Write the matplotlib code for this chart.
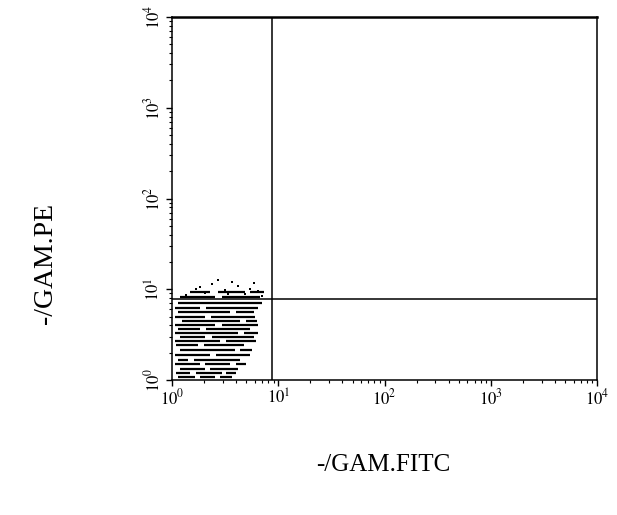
import matplotlib
matplotlib.use('Agg')
import matplotlib.pyplot as plt
import matplotlib.ticker as mtick

# streak segments of the event cloud (PE level, FITC start, FITC end)
seg_y = [1.08, 1.08, 1.08,
         1.19, 1.19, 1.19,
         1.32, 1.32,
         1.50, 1.50, 1.50,
         1.66, 1.66,
         1.89, 1.89,
         2.14, 2.14,
         2.43, 2.43,
         2.69, 2.69,
         2.98, 2.98,
         3.30, 3.30,
         3.65, 3.65,
         4.04, 4.04,
         4.47, 4.47,
         4.95, 4.95,
         5.62, 5.62,
         6.22, 6.22,
         7.06,
         8.22, 8.22,
         9.33, 9.33, 9.33]
seg_x0 = [1.14, 1.83, 2.83,
          1.09, 1.68, 3.22,
          1.19, 2.28,
          1.07, 2.05, 4.00,
          1.14, 1.61,
          1.07, 2.60,
          1.19, 4.37,
          1.09, 2.00,
          1.07, 3.22,
          1.19, 2.38,
          1.07, 4.76,
          1.14, 2.09,
          1.07, 2.96,
          1.24, 4.97,
          1.07, 2.33,
          1.14, 4.00,
          1.07, 2.09,
          1.14,
          1.19, 2.96,
          1.48, 2.71, 5.42]
seg_x1 = [1.65, 2.54, 3.67,
          1.48, 2.96, 4.00,
          2.05, 4.18,
          1.83, 3.52, 4.97,
          1.41, 4.37,
          2.28, 5.42,
          3.92, 5.66,
          1.76, 4.76,
          2.83, 6.17,
          2.05, 5.91,
          4.18, 6.45,
          1.83, 5.42,
          2.54, 6.45,
          4.37, 6.31,
          2.05, 6.04,
          3.52, 5.91,
          1.83, 6.45,
          7.03,
          2.54, 6.73,
          2.28, 4.87, 7.34]

# sparse events above the main cloud
dot_x = [1.83, 2.38, 3.15, 4.18, 5.42, 6.45, 2.05, 3.67, 4.87, 7.03, 1.35, 2.71, 3.37, 5.91, 1.68]
dot_y = [10.7, 11.3, 9.9, 11.0, 10.2, 9.6, 9.1, 12.0, 8.9, 8.4, 8.6, 12.6, 8.8, 11.6, 10.0]

gate_x = 8.7
gate_y = 7.8
decades = [1, 10, 100, 1000, 10000]
decade_labels = ['$10^0$', '$10^1$', '$10^2$', '$10^3$', '$10^4$']


def main():
    plt.rcParams['font.family'] = 'serif'
    plt.rcParams['font.serif'] = ['Liberation Serif', 'DejaVu Serif']
    plt.rcParams['mathtext.fontset'] = 'stix'

    fig = plt.figure(figsize=(6.17, 5.15), dpi=100)
    ax = fig.add_axes([0.279, 0.262, 0.689, 0.705])
    ax.set_xscale('log')
    ax.set_yscale('log')
    ax.set_xlim(1, 10000)
    ax.set_ylim(1, 10000)

    ax.hlines(seg_y, seg_x0, seg_x1, colors='black', linewidth=1.6)
    ax.scatter(dot_x, dot_y, s=4, color='black', marker='s', linewidths=0)

    # quadrant gates
    ax.axvline(gate_x, color='black', linewidth=1.1)
    ax.axhline(gate_y, color='black', linewidth=1.1)

    for side in ['left', 'right', 'bottom']:
        ax.spines[side].set_linewidth(1.1)
    ax.spines['top'].set_linewidth(1.8)

    ax.set_xticks(decades)
    ax.set_xticklabels(decade_labels, fontsize=12)
    ax.set_yticks(decades)
    ax.set_yticklabels(decade_labels, fontsize=12, rotation=90, va='center')
    ax.xaxis.set_minor_locator(mtick.LogLocator(base=10, subs=range(2, 10)))
    ax.yaxis.set_minor_locator(mtick.LogLocator(base=10, subs=range(2, 10)))
    ax.xaxis.set_minor_formatter(mtick.NullFormatter())
    ax.yaxis.set_minor_formatter(mtick.NullFormatter())
    ax.tick_params(which='major', direction='out', length=4, width=1.0, pad=2)
    ax.tick_params(which='minor', direction='out', length=2.5, width=0.8)

    fig.text(0.621, 0.097, '-/GAM.FITC', fontsize=18, ha='center', va='center')
    fig.text(0.073, 0.489, '-/GAM.PE', fontsize=20, ha='center', va='center', rotation=90)

    fig.savefig('out.png', dpi=100)


if __name__ == '__main__':
    main()
